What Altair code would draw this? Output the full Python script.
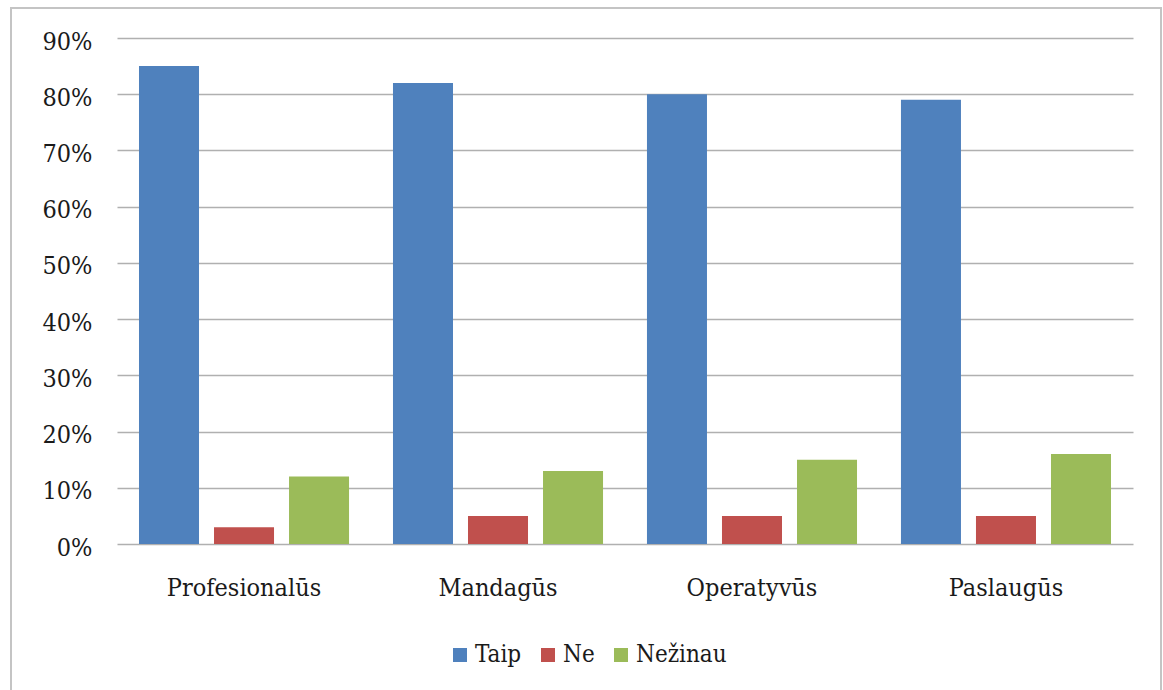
import altair as alt
import pandas as pd

# Survey answers per attribute (share of respondents)
categories = ["Profesionalūs", "Mandagūs", "Operatyvūs", "Paslaugūs"]
series = ["Taip", "Ne", "Nežinau"]
taip = [85, 82, 80, 79]
ne = [3, 5, 5, 5]
nezinau = [12, 13, 15, 16]
colors = ["#4F81BD", "#C0504D", "#9BBB59"]
y_ticks = [0, 10, 20, 30, 40, 50, 60, 70, 80, 90]

rows = []
for i, cat in enumerate(categories):
    for name, vals in zip(series, [taip, ne, nezinau]):
        rows.append({"kategorija": cat, "atsakymas": name, "dalis": vals[i] / 100})
df = pd.DataFrame(rows)

FONT = "DejaVu Serif Condensed"
W, H = 1016, 506

bars = alt.Chart(df).mark_bar().encode(
    x=alt.X(
        "kategorija:N",
        sort=categories,
        title=None,
        scale=alt.Scale(paddingInner=0.173, paddingOuter=0.0866),
        axis=alt.Axis(
            labelAngle=0,
            labelFont=FONT,
            labelFontSize=25,
            labelColor="#1a1a1a",
            labelBaseline="alphabetic",
            labelPadding=51,
            ticks=False,
            tickSize=0,
            domain=False,
            grid=False,
        ),
    ),
    xOffset=alt.XOffset(
        "atsakymas:N",
        sort=series,
        scale=alt.Scale(paddingInner=0.2, paddingOuter=0),
    ),
    y=alt.Y(
        "dalis:Q",
        title=None,
        scale=alt.Scale(domain=[0, 0.9], nice=False),
        axis=alt.Axis(
            values=[v / 100 for v in y_ticks],
            format=".0%",
            labelFont=FONT,
            labelFontSize=25,
            labelColor="#1a1a1a",
            labelPadding=25,
            labelOffset=3,
            ticks=False,
            tickSize=0,
            domain=False,
            grid=True,
            gridColor="#b0b0b0",
            gridWidth=1.6,
        ),
    ),
    color=alt.Color(
        "atsakymas:N",
        sort=series,
        scale=alt.Scale(domain=series, range=colors),
        legend=alt.Legend(
            title=None,
            orient="none",
            direction="horizontal",
            legendX=331,
            legendY=605,
            symbolType="square",
            symbolSize=196,
            symbolStrokeWidth=0,
            labelFont=FONT,
            labelFontSize=24,
            labelColor="#1a1a1a",
            labelOffset=3,
            columnPadding=14,
            padding=0,
        ),
    ),
)

# Outer frame around the whole figure
frame = alt.Chart(alt.Data(values=[{}])).mark_rect(
    fill="transparent", stroke="#c4c4c4", strokeWidth=2
).encode(
    x=alt.value(-106),
    x2=alt.value(1044),
    y=alt.value(-30),
    y2=alt.value(670),
)

chart = (
    alt.layer(frame, bars)
    .properties(
        width=W,
        height=H,
        autosize=alt.AutoSizeParams(type="none"),
        padding={"left": 117, "top": 38, "right": 30, "bottom": 146},
        background="white",
    )
    .configure_view(stroke=None)
)

chart.save("out.html", embed_options={"renderer": "svg", "actions": False})
